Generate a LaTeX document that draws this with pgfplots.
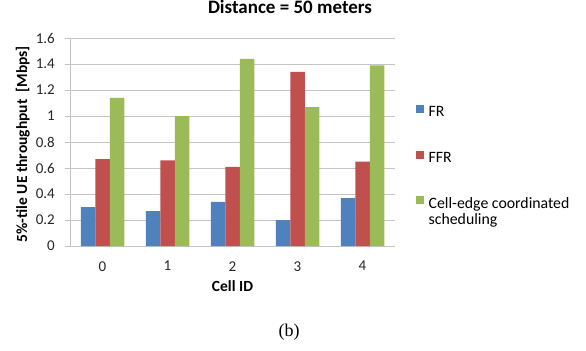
\documentclass[border=0pt]{standalone}
\usepackage{fontspec}
\setmainfont{Carlito}
\newfontfamily\timesf{Liberation Serif}
\usepackage{pgfplots}
\pgfplotsset{compat=1.18}
\definecolor{cFR}{HTML}{4F81BD}
\definecolor{cFFR}{HTML}{C0504D}
\definecolor{cCE}{HTML}{9BBB59}
\definecolor{gridc}{HTML}{C4C4C4}
\pgfplotsset{mylegend/.style={legend image code/.code={\fill[##1] (0pt,0.35pt) rectangle (8pt,8.35pt);}},
  mylegendup/.style={legend image code/.code={\fill[##1] (0pt,7.35pt) rectangle (8pt,15.35pt);}}}
\begin{document}
\begin{tikzpicture}
\path (0pt,0pt) rectangle (586pt,348pt);
\begin{axis}[
 at={(70pt,104pt)}, anchor=south west,
 scale only axis, width=325pt, height=208pt,
 ybar=0pt, bar width=14.5pt,
 xmin=-0.5, xmax=4.5, ymin=0, ymax=1.6,
 xtick={0,1,2,3,4}, xticklabels={0,1,2,3,4},
 ytick={0,0.2,0.4,0.6,0.8,1,1.2,1.4,1.6},
 yticklabels={0,0.2,0.4,0.6,0.8,1,1.2,1.4,1.6},
 ymajorgrids, grid style={draw=gridc, line width=0.8pt},
 axis x line*=bottom, axis y line*=left,
 axis line style={draw=gridc, line width=0.8pt},
 tick align=outside, major tick length=5pt,
 xtick style={draw=none},
 ytick style={draw=gridc, line width=0.8pt},
 tick label style={font=\fontsize{15}{18}\selectfont, text=black!85},
 yticklabel style={inner sep=0pt, xshift=-10pt},
 xticklabel style={inner sep=0pt, yshift=-10pt},
 every axis y label/.style={at={(axis description cs:-0.145,0.49)}, rotate=90, anchor=center, font=\bfseries\fontsize{15.5}{18}\selectfont},
 every axis x label/.style={at={(axis description cs:0.5,-0.193)}, anchor=center, font=\bfseries\fontsize{15.5}{18}\selectfont},
 ylabel={5\%-tile UE throughput~~[Mbps]},
 xlabel={Cell ID},
 title={Distance = 50 meters},
 title style={at={(axis description cs:0.677,1.122)}, anchor=center, inner sep=0pt, font=\bfseries\fontsize{19}{22}\selectfont},
 legend style={at={(axis description cs:1.0538,0.69)}, anchor=north west, draw=none, fill=none,
   font=\fontsize{15.8}{17}\selectfont, row sep=31pt, column sep=5pt,
   nodes={inner sep=0pt, text height=10pt, text depth=3pt}},
 legend cell align=left,
]
\addplot[fill=cFR, draw=none, mylegend] coordinates {(0,0.30) (1,0.27) (2,0.34) (3,0.20) (4,0.37)};
\addplot[fill=cFFR, draw=none, mylegend] coordinates {(0,0.67) (1,0.66) (2,0.61) (3,1.34) (4,0.65)};
\addplot[fill=cCE, draw=none, mylegendup] coordinates {(0,1.14) (1,1.00) (2,1.44) (3,1.07) (4,1.39)};
\legend{FR, FFR, {\raisebox{7pt}{\begin{tabular}[t]{@{}l@{}}Cell-edge coordinated\\[-1pt]scheduling\end{tabular}}}}
\end{axis}
\node[font=\timesf\fontsize{18}{20}\selectfont, anchor=center] at (289pt,18pt) {(b)};
\end{tikzpicture}
\end{document}
